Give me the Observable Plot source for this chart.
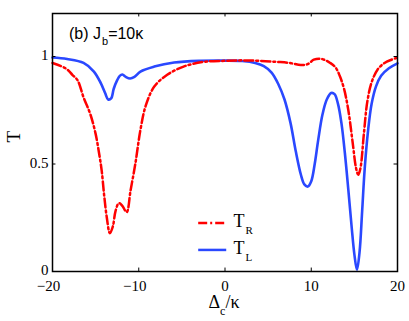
<!DOCTYPE html>
<html>
<head>
<meta charset="utf-8">
<script src="https://cdn.jsdelivr.net/npm/d3@7"></script>
<script src="https://cdn.jsdelivr.net/npm/@observablehq/plot@0.6"></script>
<style>
  html, body { margin: 0; padding: 0; background: white; }
</style>
</head>
<body>
<div id="chart"></div>
<script>
// T_L (blue, solid)
const xL = [-20, -18.3, -16.4, -15.2, -14.4, -13.9, -13.55, -13.2, -12.9, -12.5, -12.2, -11.9, -11.5, -11.0, -10.5, -9.8, -8.2, -5.9, -2.8, 0, 2, 3.5, 4.5, 5.4, 6.2, 6.9, 7.6, 8.2, 8.8, 9.2, 9.6, 10.0, 10.4, 10.8, 11.3, 11.8, 12.3, 12.7, 13.1, 13.5, 13.9, 14.3, 14.7, 15.0, 15.3, 15.6, 15.9, 16.2, 16.6, 17.0, 17.5, 18.1, 19.0, 20];
const yL = [0.995, 0.988, 0.97, 0.93, 0.876, 0.83, 0.80, 0.805, 0.85, 0.89, 0.91, 0.916, 0.905, 0.898, 0.905, 0.93, 0.953, 0.972, 0.98, 0.981, 0.979, 0.97, 0.955, 0.925, 0.87, 0.80, 0.69, 0.56, 0.45, 0.405, 0.395, 0.42, 0.50, 0.61, 0.73, 0.80, 0.83, 0.825, 0.78, 0.69, 0.55, 0.38, 0.20, 0.08, 0.008, 0.09, 0.28, 0.48, 0.66, 0.78, 0.86, 0.91, 0.945, 0.968];
// T_R (red, dash-dot)
const xR = [-20, -19, -18.3, -17.7, -17.1, -16.4, -15.6, -15.0, -14.6, -14.3, -14.0, -13.7, -13.35, -13.0, -12.7, -12.3, -11.9, -11.4, -10.95, -10.4, -9.8, -9.2, -8.2, -6.7, -4.8, -2.5, 0, 2, 4, 6, 7.5, 8.8, 9.6, 10.3, 10.9, 11.5, 12.2, 12.8, 13.3, 13.8, 14.3, 14.8, 15.2, 15.45, 15.7, 16.1, 16.5, 17.0, 17.7, 18.5, 19.3, 20];
const yR = [0.97, 0.955, 0.94, 0.915, 0.89, 0.81, 0.73, 0.64, 0.55, 0.47, 0.35, 0.25, 0.178, 0.21, 0.28, 0.318, 0.305, 0.276, 0.377, 0.50, 0.66, 0.77, 0.86, 0.915, 0.953, 0.975, 0.98, 0.982, 0.98, 0.975, 0.97, 0.96, 0.965, 0.985, 0.99, 0.985, 0.97, 0.95, 0.91, 0.85, 0.75, 0.60, 0.48, 0.45, 0.48, 0.64, 0.79, 0.88, 0.94, 0.97, 0.985, 0.995];

const xTicks = [-20, -10, 0, 10, 20];
const yTicks = [0, 0.5, 1];
const xDomain = [-20, 20];
const yDomain = [0, 1.2];

const dataL = xL.map((x, i) => ({x, y: yL[i]}));
const dataR = xR.map((x, i) => ({x, y: yR[i]}));

const BLUE = "#2a48ff";
const RED = "#ff0000";
const DASH = "9,3,2,3";
const SERIF = "'Liberation Serif', 'Times New Roman', serif";
const SANS = "'Liberation Sans', Arial, sans-serif";

const plot = Plot.plot({
  width: 409,
  height: 321,
  marginLeft: 52,
  marginRight: 12,
  marginTop: 13,
  marginBottom: 50,
  style: {background: "white", color: "black", fontFamily: SERIF},
  x: {domain: xDomain},
  y: {domain: yDomain},
  marks: [
    Plot.line(dataL, {x: "x", y: "y", stroke: BLUE, strokeWidth: 2.6, curve: "catmull-rom"}),
    Plot.line(dataR, {x: "x", y: "y", stroke: RED, strokeWidth: 2.5, strokeDasharray: DASH, curve: "catmull-rom"}),
    Plot.ruleX(xTicks, {x: d => d, y1: 0, y2: 0.016, stroke: "black", strokeWidth: 1}),
    Plot.ruleX(xTicks, {x: d => d, y1: 1.2, y2: 1.184, stroke: "black", strokeWidth: 1}),
    Plot.ruleY(yTicks, {y: d => d, x1: -20, x2: -19.6, stroke: "black", strokeWidth: 1}),
    Plot.ruleY(yTicks, {y: d => d, x1: 20, x2: 19.6, stroke: "black", strokeWidth: 1}),
    Plot.frame({stroke: "black", strokeWidth: 1.5}),
    Plot.axisX(xTicks.filter(d => d < 0), {tickSize: 0, tickPadding: 9, fontSize: 15, fontFamily: SERIF, dx: -4, label: null}),
    Plot.axisX(xTicks.filter(d => d >= 0), {tickSize: 0, tickPadding: 9, fontSize: 15, fontFamily: SERIF, label: null}),
    Plot.axisY(yTicks, {tickSize: 0, tickPadding: 4, fontSize: 15, fontFamily: SERIF, dy: -1, tickFormat: d => String(d), label: null}),
    Plot.text(["T"], {frameAnchor: "left", text: d => d, rotate: -90, dx: -39, fontSize: 19, fontFamily: SERIF, fill: "black"})
  ]
});

document.getElementById("chart").appendChild(plot);

const sx = plot.scale("x"), sy = plot.scale("y");
const svg = d3.select(plot);

// panel title
const title = svg.append("text")
  .attr("x", sx.apply(-20) + 17)
  .attr("y", sy.apply(1.2) + 26)
  .attr("text-anchor", "start")
  .attr("font-family", SANS)
  .attr("font-size", 16)
  .attr("fill", "black");
title.append("tspan").text("(b) J");
title.append("tspan").attr("dy", 6).attr("dx", 1).attr("font-size", 11).text("b");
title.append("tspan").attr("dy", -6).text("=10κ");

// x label
const xl = svg.append("text")
  .attr("x", sx.apply(0) - 16)
  .attr("y", sy.apply(0) + 37)
  .attr("text-anchor", "start")
  .attr("font-family", SERIF)
  .attr("font-size", 18)
  .attr("fill", "black");
xl.append("tspan").text("Δ");
xl.append("tspan").attr("dy", 7).attr("font-size", 12).text("c");
xl.append("tspan").attr("dy", -7).text("/κ");

// legend
const legend = [
  {name: "R", color: RED, dash: DASH, yv: 0.223},
  {name: "L", color: BLUE, dash: null, yv: 0.098}
];
legend.forEach(l => {
  const yy = sy.apply(l.yv);
  const ln = svg.append("line")
    .attr("x1", sx.apply(-3.05)).attr("x2", sx.apply(0.2))
    .attr("y1", yy).attr("y2", yy)
    .attr("stroke", l.color).attr("stroke-width", 2.5);
  if (l.dash) ln.attr("stroke-dasharray", l.dash);
  const t = svg.append("text")
    .attr("x", sx.apply(1.05))
    .attr("y", yy + 4)
    .attr("text-anchor", "start")
    .attr("font-family", SERIF)
    .attr("font-size", 18)
    .attr("fill", "black");
  t.append("tspan").text("T");
  t.append("tspan").attr("dy", 7).attr("dx", 1).attr("font-size", 11).text(l.name);
});
</script>
</body>
</html>
